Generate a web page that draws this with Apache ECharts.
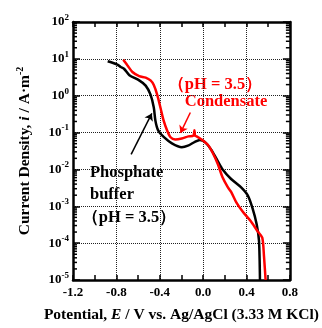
<!DOCTYPE html>
<html>
<head>
<meta charset="utf-8">
<script src="https://cdn.jsdelivr.net/npm/echarts@6/dist/echarts.min.js"></script>
<style>
  html, body { margin: 0; padding: 0; background: #fff; }
  #main { width: 322px; height: 328px; }
</style>
</head>
<body>
<div id="main"></div>
<script>
// potential (V vs Ag/AgCl) and current density (A m^-2)
var phosE = [-0.88, -0.79, -0.76, -0.73, -0.68, -0.59, -0.53, -0.485, -0.455, -0.44, -0.415, -0.364, -0.288, -0.197, -0.14, -0.076, -0.03, 0.015, 0.076, 0.136, 0.18, 0.258, 0.348, 0.41, 0.455, 0.494, 0.515, 0.524];
var phosI = [8.6, 7.0, 6.0, 5.4, 3.6, 2.6, 1.88, 1.07, 0.48, 0.21, 0.115, 0.076, 0.051, 0.040, 0.044, 0.056, 0.063, 0.056, 0.034, 0.0166, 0.010, 0.0055, 0.0033, 0.0020, 0.00089, 0.00032, 0.000117, 0.00001];

var condE = [-0.737, -0.697, -0.652, -0.59, -0.53, -0.485, -0.455, -0.424, -0.394, -0.364, -0.333, -0.303, -0.258, -0.197, -0.136, -0.09, -0.08, -0.075, -0.06, -0.015, 0.045, 0.09, 0.136, 0.18, 0.227, 0.258, 0.303, 0.364, 0.44, 0.5, 0.545, 0.561, 0.576];
var condI = [9.5, 6.6, 4.4, 3.4, 3.1, 2.6, 1.95, 1.07, 0.48, 0.21, 0.115, 0.076, 0.065, 0.069, 0.079, 0.083, 0.115, 0.083, 0.079, 0.065, 0.046, 0.0275, 0.0138, 0.0060, 0.0033, 0.00245, 0.00132, 0.00072, 0.00039, 0.000214, 0.000141, 0.0000447, 0.00001];

// arrows: [start, end] in data coords
var condArrow = [[-0.118, 0.35], [-0.209, 0.098]];
var phosArrow = [[-0.664, 0.0257], [-0.473, 0.33]];

var xMin = -1.2, xMax = 0.8;
var yMin = 1e-5, yMax = 1e2;

function pairs(xs, ys) {
  return xs.map(function (x, i) { return [x, ys[i]]; });
}

// minor ticks 2..9 of each decade for the log axis
var minorY = [];
for (var d = -5; d < 2; d++) {
  for (var k = 2; k <= 9; k++) minorY.push([xMin, k * Math.pow(10, d)]);
}

var font = '"Liberation Serif", "Times New Roman", serif';
var gridLine = { show: true, lineStyle: { color: '#222', type: [1, 1], width: 1 } };

var myChart = echarts.init(document.getElementById('main'));
var option = {
  animation: false,
  grid: { left: 73, right: 29, top: 22, bottom: 41 },
  xAxis: [
    {
      type: 'value', min: xMin, max: xMax, interval: 0.4, position: 'bottom',
      name: 'Potential, {i|E} / V vs. Ag/AgCl (3.33 M KCl)',
      nameLocation: 'middle', nameGap: 27,
      nameTextStyle: {
        fontFamily: font, fontWeight: 'bold', fontSize: 15.5, color: '#000',
        rich: { i: { fontFamily: font, fontWeight: 'bold', fontStyle: 'italic', fontSize: 15.5, color: '#000' } }
      },
      axisLine: { onZero: false, lineStyle: { color: '#000', width: 2.5 } },
      axisTick: { inside: true, length: 5, lineStyle: { color: '#000', width: 1.5 } },
      minorTick: { show: true, splitNumber: 2, length: 5, lineStyle: { color: '#000', width: 1.5 } },
      splitLine: gridLine,
      axisLabel: {
        fontFamily: font, fontWeight: 'bold', fontSize: 13, color: '#000', margin: 6,
        formatter: function (v) { return v.toFixed(1); }
      }
    },
    {
      type: 'value', min: xMin, max: xMax, interval: 0.4, position: 'top',
      axisLine: { onZero: false, lineStyle: { color: '#000', width: 2.5 } },
      axisTick: { inside: true, length: 5, lineStyle: { color: '#000', width: 1.5 } },
      minorTick: { show: true, splitNumber: 2, length: 5, lineStyle: { color: '#000', width: 1.5 } },
      splitLine: { show: false },
      axisLabel: { show: false }
    }
  ],
  yAxis: [
    {
      type: 'log', logBase: 10, min: yMin, max: yMax, position: 'left',
      name: 'Current Density, {i|i} / A·m{s|-2}',
      nameLocation: 'middle', nameGap: 38, nameRotate: 90,
      nameTextStyle: {
        fontFamily: font, fontWeight: 'bold', fontSize: 15.5, color: '#000', lineHeight: 20,
        rich: {
          i: { fontFamily: font, fontWeight: 'bold', fontStyle: 'italic', fontSize: 15.5, color: '#000', lineHeight: 20 },
          s: { fontFamily: font, fontWeight: 'bold', fontSize: 10, color: '#000', verticalAlign: 'top', lineHeight: 20 }
        }
      },
      axisLine: { onZero: false, lineStyle: { color: '#000', width: 2.5 } },
      axisTick: { inside: true, length: 7, lineStyle: { color: '#000', width: 1.5 } },
      splitLine: gridLine,
      axisLabel: {
        margin: 4,
        formatter: function (v) {
          return '{b|10}{s|' + Math.round(Math.log10(v)) + '}';
        },
        rich: {
          b: { fontFamily: font, fontWeight: 'bold', fontSize: 13, color: '#000', lineHeight: 18 },
          s: { fontFamily: font, fontWeight: 'bold', fontSize: 9, color: '#000', verticalAlign: 'top', lineHeight: 18 }
        }
      }
    },
    {
      type: 'log', logBase: 10, min: yMin, max: yMax, position: 'right',
      axisLine: { onZero: false, lineStyle: { color: '#000', width: 2.5 } },
      axisTick: { inside: true, length: 7, lineStyle: { color: '#000', width: 1.5 } },
      splitLine: { show: false },
      axisLabel: { show: false }
    }
  ],
  series: [
    {
      name: 'Phosphate buffer',
      type: 'line',
      data: pairs(phosE, phosI),
      showSymbol: false,
      smooth: 0.25,
      lineStyle: { color: '#000', width: 2.5 },
      z: 3,
      markLine: {
        silent: true, symbol: ['none', 'arrow'], symbolSize: 7,
        label: { show: false },
        lineStyle: { color: '#000', width: 1.5, type: 'solid' },
        data: [[{ coord: phosArrow[0] }, { coord: phosArrow[1] }]]
      }
    },
    {
      name: 'Condensate',
      type: 'line',
      data: pairs(condE, condI),
      showSymbol: false,
      smooth: 0.25,
      lineStyle: { color: '#ff0000', width: 2.5 },
      z: 4,
      markLine: {
        silent: true, symbol: ['none', 'arrow'], symbolSize: 7,
        label: { show: false },
        lineStyle: { color: '#ff0000', width: 1.5, type: 'solid' },
        data: [[{ coord: condArrow[0] }, { coord: condArrow[1] }]]
      }
    },
    {
      type: 'custom',
      silent: true,
      data: minorY,
      renderItem: function (params, api) {
        var p = api.coord([xMin, api.value(1)]);
        var q = api.coord([xMax, api.value(1)]);
        return {
          type: 'group',
          children: [
            { type: 'line', shape: { x1: p[0], y1: p[1], x2: p[0] + 4, y2: p[1] }, style: { stroke: '#000', lineWidth: 1.5 } },
            { type: 'line', shape: { x1: q[0] - 4, y1: q[1], x2: q[0], y2: q[1] }, style: { stroke: '#000', lineWidth: 1.5 } }
          ]
        };
      }
    }
  ],
  graphic: [
    { type: 'text', style: { x: 215, y: 85, text: '（pH = 3.5）', align: 'center', verticalAlign: 'middle', fill: '#ff0000', font: 'bold 16.5px ' + font } },
    { type: 'text', style: { x: 226, y: 102, text: 'Condensate', align: 'center', verticalAlign: 'middle', fill: '#ff0000', font: 'bold 16.5px ' + font } },
    { type: 'text', style: { x: 90, y: 173, text: 'Phosphate', align: 'left', verticalAlign: 'middle', fill: '#000', font: 'bold 16.5px ' + font } },
    { type: 'text', style: { x: 90, y: 195, text: 'buffer', align: 'left', verticalAlign: 'middle', fill: '#000', font: 'bold 16.5px ' + font } },
    { type: 'text', style: { x: 129, y: 218, text: '（pH = 3.5）', align: 'center', verticalAlign: 'middle', fill: '#000', font: 'bold 16.5px ' + font } }
  ]
};
myChart.setOption(option);
</script>
</body>
</html>
